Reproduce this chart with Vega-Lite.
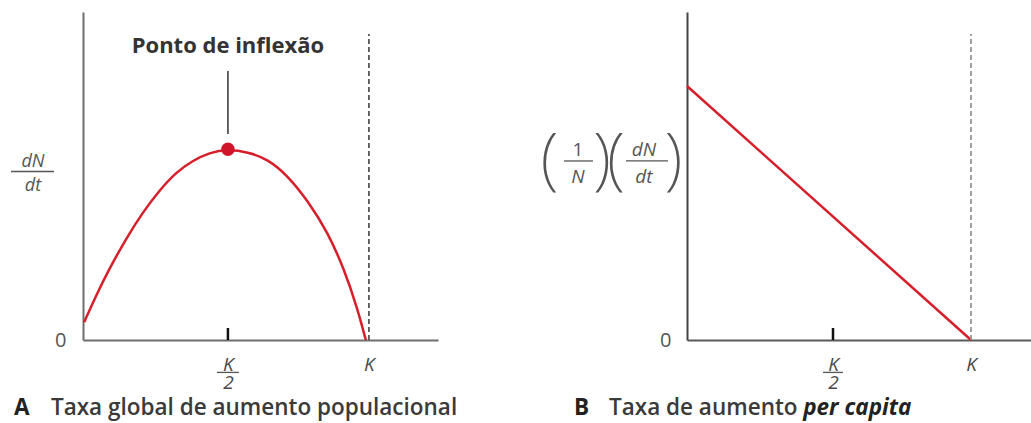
{
  "$schema": "https://vega.github.io/schema/vega-lite/v6.json",
  "padding": {"left": 10, "top": 12, "right": 0, "bottom": 6},
  "bounds": "flush",
  "spacing": 249,
  "config": {"view": {"stroke": null}, "font": "Open Sans"},
  "datasets": {
    "taxa_global": [
      {"N": -0.010, "dNdt": 0.0232},
      {"N": 0.032, "dNdt": 0.0581},
      {"N": 0.079, "dNdt": 0.0931},
      {"N": 0.138, "dNdt": 0.1324},
      {"N": 0.198, "dNdt": 0.1674},
      {"N": 0.256, "dNdt": 0.1957},
      {"N": 0.316, "dNdt": 0.2199},
      {"N": 0.375, "dNdt": 0.2351},
      {"N": 0.434, "dNdt": 0.2458},
      {"N": 0.500, "dNdt": 0.2500},
      {"N": 0.570, "dNdt": 0.2465},
      {"N": 0.641, "dNdt": 0.2373},
      {"N": 0.712, "dNdt": 0.2154},
      {"N": 0.783, "dNdt": 0.1826},
      {"N": 0.854, "dNdt": 0.1412},
      {"N": 0.912, "dNdt": 0.0931},
      {"N": 0.960, "dNdt": 0.0406},
      {"N": 0.989, "dNdt": 0.0}
    ],
    "per_capita": [
      {"N": -0.029, "r": 0.333},
      {"N": 1.0, "r": 0.0}
    ],
    "anotacao": [{}]
  },
  "hconcat": [
    {
      "width": 355,
      "height": 328,
      "data": {"name": "anotacao"},
      "layer": [
        {
          "data": {"name": "taxa_global"},
          "mark": {"type": "line", "color": "#d71f2b", "strokeWidth": 2.5, "interpolate": "basis"},
          "encoding": {
            "x": {"field": "N", "type": "quantitative",
              "scale": {"domain": [-0.014, 1.245], "nice": false, "zero": false},
              "axis": {"values": [0.5, 1], "labelExpr": "datum.value == 1 ? 'K' : ['K', '2']", "ticks": false, "grid": false, "title": null,
                "domainColor": "#6e6e6e", "domainWidth": 2, "labelFontStyle": "italic", "labelFontSize": 19, "labelColor": "#484848",
                "labelBaseline": "top", "labelLineHeight": 18, "labelPadding": 15, "labelFlush": false, "labelOverlap": false}},
            "y": {"field": "dNdt", "type": "quantitative",
              "scale": {"domain": [0, 0.43], "nice": false},
              "axis": {"values": [0], "labelExpr": "'0'", "ticks": false, "grid": false, "title": null,
                "domainColor": "#6e6e6e", "domainWidth": 2, "labelFontSize": 20, "labelColor": "#555", "labelPadding": 17, "labelFlush": false}}
          }
        },
        {
          "mark": {"type": "rule", "color": "#444", "strokeWidth": 1.6, "strokeDash": [5, 3]},
          "encoding": {
            "x": {"datum": 1, "type": "quantitative"},
            "y": {"datum": 0, "type": "quantitative"},
            "y2": {"datum": 0.401}
          }
        },
        {
          "mark": {"type": "rule", "color": "#333", "strokeWidth": 1.5},
          "encoding": {
            "x": {"datum": 0.5, "type": "quantitative"},
            "y": {"datum": 0.270, "type": "quantitative"},
            "y2": {"datum": 0.3527}
          }
        },
        {
          "mark": {"type": "rule", "color": "#111", "strokeWidth": 2.5},
          "encoding": {
            "x": {"datum": 0.5, "type": "quantitative"},
            "y": {"datum": 0, "type": "quantitative"},
            "y2": {"datum": 0.0157}
          }
        },
        {
          "mark": {"type": "rule", "color": "#555", "strokeWidth": 1.3},
          "encoding": {
            "x": {"datum": 0.461, "type": "quantitative"},
            "x2": {"datum": 0.539},
            "y": {"datum": -0.0425, "type": "quantitative"}
          }
        },
        {
          "mark": {"type": "point", "filled": true, "color": "#d0152b", "size": 180, "opacity": 1},
          "encoding": {
            "x": {"datum": 0.5, "type": "quantitative"},
            "y": {"datum": 0.25, "type": "quantitative"}
          }
        },
        {
          "mark": {"type": "text", "text": "Ponto de inflexão", "fontWeight": "bold", "fontSize": 22, "color": "#333", "align": "center", "baseline": "alphabetic"},
          "encoding": {
            "x": {"datum": 0.5, "type": "quantitative"},
            "y": {"datum": 0.3763, "type": "quantitative"}
          }
        },
        {
          "mark": {"type": "text", "text": "dN", "fontStyle": "italic", "fontSize": 18, "color": "#555", "align": "center", "baseline": "alphabetic"},
          "encoding": {
            "x": {"datum": -0.1915, "type": "quantitative"},
            "y": {"datum": 0.2268, "type": "quantitative"}
          }
        },
        {
          "mark": {"type": "rule", "color": "#555", "strokeWidth": 1.3},
          "encoding": {
            "x": {"datum": -0.2695, "type": "quantitative"},
            "x2": {"datum": -0.117},
            "y": {"datum": 0.2209, "type": "quantitative"}
          }
        },
        {
          "mark": {"type": "text", "text": "dt", "fontStyle": "italic", "fontSize": 18, "color": "#555", "align": "center", "baseline": "alphabetic"},
          "encoding": {
            "x": {"datum": -0.1915, "type": "quantitative"},
            "y": {"datum": 0.1955, "type": "quantitative"}
          }
        },
        {
          "mark": {"type": "text", "text": "A", "fontWeight": "bold", "fontSize": 22.5, "color": "#222", "align": "left", "baseline": "alphabetic"},
          "encoding": {
            "x": {"datum": -0.2589, "type": "quantitative"},
            "y": {"datum": -0.0983, "type": "quantitative"}
          }
        },
        {
          "mark": {"type": "text", "text": "Taxa global de aumento populacional", "fontWeight": 600, "fontSize": 22.5, "color": "#3a3a3a", "align": "left", "baseline": "alphabetic"},
          "encoding": {
            "x": {"datum": -0.1277, "type": "quantitative"},
            "y": {"datum": -0.0983, "type": "quantitative"}
          }
        }
      ]
    },
    {
      "width": 345,
      "height": 328,
      "data": {"name": "anotacao"},
      "layer": [
        {
          "data": {"name": "per_capita"},
          "mark": {"type": "line", "color": "#d71f2b", "strokeWidth": 2.5},
          "encoding": {
            "x": {"field": "N", "type": "quantitative",
              "scale": {"domain": [-0.029, 1.221], "nice": false, "zero": false},
              "axis": {"values": [0.5, 1], "labelExpr": "datum.value == 1 ? 'K' : ['K', '2']", "ticks": false, "grid": false, "title": null,
                "domainColor": "#5a5a5a", "domainWidth": 2, "labelFontStyle": "italic", "labelFontSize": 19, "labelColor": "#484848",
                "labelBaseline": "top", "labelLineHeight": 18, "labelPadding": 15, "labelFlush": false, "labelOverlap": false}},
            "y": {"field": "r", "type": "quantitative",
              "scale": {"domain": [0, 0.43], "nice": false},
              "axis": {"values": [0], "labelExpr": "'0'", "ticks": false, "grid": false, "title": null,
                "domainColor": "#444", "domainWidth": 2, "labelFontSize": 20, "labelColor": "#555", "labelPadding": 16, "labelFlush": false}}
          }
        },
        {
          "mark": {"type": "rule", "color": "#8a8a8a", "strokeWidth": 1.6, "strokeDash": [5, 3]},
          "encoding": {
            "x": {"datum": 1, "type": "quantitative"},
            "y": {"datum": 0, "type": "quantitative"},
            "y2": {"datum": 0.401}
          }
        },
        {
          "mark": {"type": "rule", "color": "#111", "strokeWidth": 2.5},
          "encoding": {
            "x": {"datum": 0.5, "type": "quantitative"},
            "y": {"datum": 0, "type": "quantitative"},
            "y2": {"datum": 0.0157}
          }
        },
        {
          "mark": {"type": "rule", "color": "#555", "strokeWidth": 1.3},
          "encoding": {
            "x": {"datum": 0.464, "type": "quantitative"},
            "x2": {"datum": 0.536},
            "y": {"datum": -0.0425, "type": "quantitative"}
          }
        },
        {
          "mark": {"type": "text", "text": "(", "font": "Noto Sans", "fontWeight": 200, "fontSize": 68, "color": "#555", "align": "center", "baseline": "alphabetic"},
          "encoding": {
            "x": {"datum": -0.527, "type": "quantitative"},
            "y": {"datum": 0.2071, "type": "quantitative"}
          }
        },
        {
          "mark": {"type": "text", "text": "1", "fontSize": 19, "color": "#555", "align": "center", "baseline": "alphabetic"},
          "encoding": {
            "x": {"datum": -0.424, "type": "quantitative"},
            "y": {"datum": 0.2412, "type": "quantitative"}
          }
        },
        {
          "mark": {"type": "rule", "color": "#555", "strokeWidth": 1.3},
          "encoding": {
            "x": {"datum": -0.4746, "type": "quantitative"},
            "x2": {"datum": -0.3696},
            "y": {"datum": 0.2347, "type": "quantitative"}
          }
        },
        {
          "mark": {"type": "text", "text": "N", "fontStyle": "italic", "fontSize": 19, "color": "#555", "align": "center", "baseline": "alphabetic"},
          "encoding": {
            "x": {"datum": -0.424, "type": "quantitative"},
            "y": {"datum": 0.2059, "type": "quantitative"}
          }
        },
        {
          "mark": {"type": "text", "text": ")", "font": "Noto Sans", "fontWeight": 200, "fontSize": 68, "color": "#555", "align": "center", "baseline": "alphabetic"},
          "encoding": {
            "x": {"datum": -0.337, "type": "quantitative"},
            "y": {"datum": 0.2071, "type": "quantitative"}
          }
        },
        {
          "mark": {"type": "text", "text": "(", "font": "Noto Sans", "fontWeight": 200, "fontSize": 68, "color": "#555", "align": "center", "baseline": "alphabetic"},
          "encoding": {
            "x": {"datum": -0.286, "type": "quantitative"},
            "y": {"datum": 0.2071, "type": "quantitative"}
          }
        },
        {
          "mark": {"type": "text", "text": "dN", "fontStyle": "italic", "fontSize": 19, "color": "#555", "align": "center", "baseline": "alphabetic"},
          "encoding": {
            "x": {"datum": -0.1848, "type": "quantitative"},
            "y": {"datum": 0.2412, "type": "quantitative"}
          }
        },
        {
          "mark": {"type": "rule", "color": "#555", "strokeWidth": 1.3},
          "encoding": {
            "x": {"datum": -0.25, "type": "quantitative"},
            "x2": {"datum": -0.0978},
            "y": {"datum": 0.2347, "type": "quantitative"}
          }
        },
        {
          "mark": {"type": "text", "text": "dt", "fontStyle": "italic", "fontSize": 19, "color": "#555", "align": "center", "baseline": "alphabetic"},
          "encoding": {
            "x": {"datum": -0.1848, "type": "quantitative"},
            "y": {"datum": 0.2059, "type": "quantitative"}
          }
        },
        {
          "mark": {"type": "text", "text": ")", "font": "Noto Sans", "fontWeight": 200, "fontSize": 68, "color": "#555", "align": "center", "baseline": "alphabetic"},
          "encoding": {
            "x": {"datum": -0.0779, "type": "quantitative"},
            "y": {"datum": 0.2071, "type": "quantitative"}
          }
        },
        {
          "mark": {"type": "text", "text": "B", "fontWeight": "bold", "fontSize": 22.5, "color": "#222", "align": "left", "baseline": "alphabetic"},
          "encoding": {
            "x": {"datum": -0.4384, "type": "quantitative"},
            "y": {"datum": -0.0983, "type": "quantitative"}
          }
        },
        {
          "mark": {"type": "text", "text": "Taxa de aumento", "fontWeight": 600, "fontSize": 22.5, "color": "#3a3a3a", "align": "left", "baseline": "alphabetic"},
          "encoding": {
            "x": {"datum": -0.3116, "type": "quantitative"},
            "y": {"datum": -0.0983, "type": "quantitative"}
          }
        },
        {
          "mark": {"type": "text", "text": "per capita", "fontWeight": "bold", "fontStyle": "italic", "fontSize": 22.5, "color": "#222", "align": "left", "baseline": "alphabetic"},
          "encoding": {
            "x": {"datum": 0.392, "type": "quantitative"},
            "y": {"datum": -0.0983, "type": "quantitative"}
          }
        }
      ]
    }
  ]
}
